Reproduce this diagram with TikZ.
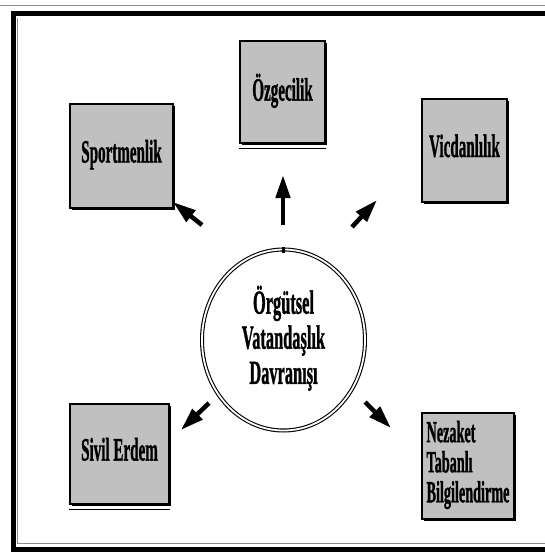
\documentclass[tikz,border=0pt]{standalone}
\usepackage{fontspec}
\setmainfont{Liberation Serif}[BoldFeatures={FakeBold=1.5}]
\usetikzlibrary{arrows.meta,shapes.geometric,shadows}
\definecolor{kutugri}{RGB}{192,192,192}
\newcommand{\dar}[1]{\scalebox{0.58}[1.25]{\begin{tabular}{@{}l@{}}#1\end{tabular}}}
\newcommand{\ortadar}[1]{\scalebox{0.585}[1.2]{\begin{tabular}{@{}c@{}}#1\end{tabular}}}
\begin{document}
\begin{tikzpicture}[x=1pt, y=-1pt,
    kutu/.style={draw, line width=1.5pt, fill=kutugri, inner sep=0pt,
        drop shadow={shadow xshift=1.5pt, shadow yshift=-2pt, opacity=1, fill=black},
        font=\bfseries\fontsize{26}{26}\selectfont},
    ok/.style={line width=4.5pt, -{Triangle[length=23pt,width=14pt]}}]
    \useasboundingbox (0,0) rectangle (545,552);
    \clip (0,0) rectangle (545,552);
    \fill[white] (0,0) rectangle (545,552);
    \draw[black!45, line width=1pt] (0,5) -- (545,5);
    \draw[line width=5pt] (13,13.5) rectangle (570,549);
    \draw[black!45, line width=1pt] (17.5,18) -- (17.5,543.5) -- (545,543.5);
    \node[kutu, minimum width=103pt, minimum height=104pt] (spor) at (121.5,156) {\dar{Sportmenlik}};
    \node[kutu, minimum width=85pt, minimum height=102pt] (ozg) at (282.5,92) {\dar{Özgecilik}};
    \node[kutu, minimum width=85pt, minimum height=103pt] (vic) at (464.5,150.5) {\dar{Vicdanlılık}};
    \node[kutu, minimum width=99pt, minimum height=100pt] (sivil) at (119.5,454) {\dar{Sivil Erdem}};
    \node[kutu, minimum width=92pt, minimum height=106pt,
        font=\bfseries\fontsize{24.5}{23.4}\selectfont] (nez) at (468,466) {\dar{Nezaket\\Tabanlı\\Bilgilendirme}};
    \draw[line width=1.2pt] ([yshift=-5pt]ozg.south west) -- ([yshift=-5pt]ozg.south east);
    \draw[line width=1.2pt] ([yshift=-5pt]sivil.south west) -- ([yshift=-5pt]sivil.south east);
    \node[draw, ellipse, double, double distance=1.8pt, line width=1.1pt, inner sep=0pt,
        minimum width=163pt, minimum height=181pt,
        font=\bfseries\fontsize{28}{29.2}\selectfont] (ovd) at (283.5,340) {\ortadar{Örgütsel\\Vatandaşlık\\Davranışı}};
    \draw[line width=2.5pt] ([yshift=2pt]ovd.north) -- ([yshift=-4pt]ovd.north);
    \foreach \i/\xa/\ya/\xb/\yb in {1/202/225/173/202, 2/283/225/283/175, 3/352/227/377/200,
        4/209/403/181/430, 5/365/402/391/428} {
        \coordinate (k\i) at (\xa,\ya);
        \coordinate (u\i) at (\xb,\yb);
        \draw[ok] (k\i) -- (u\i);
    }
\end{tikzpicture}
\end{document}
